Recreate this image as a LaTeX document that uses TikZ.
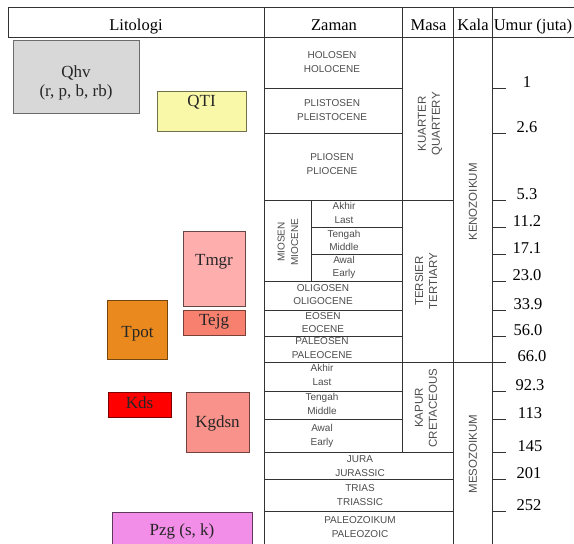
\documentclass[tikz,border=0pt]{standalone}
\usepackage{fontspec}
\setmainfont{Liberation Serif}
\setsansfont{Liberation Sans}
\usetikzlibrary{calc}

\definecolor{qhvgray}{HTML}{D8D8D8}
\definecolor{qtiyellow}{HTML}{F8F8A8}
\definecolor{tmgrpink}{HTML}{FFAEAE}
\definecolor{tejgsalmon}{HTML}{F7806F}
\definecolor{tpotorange}{HTML}{EA8A1E}
\definecolor{kdsred}{HTML}{FF0000}
\definecolor{kgdsnsalmon}{HTML}{F8928A}
\definecolor{pzgviolet}{HTML}{F28DE8}

\tikzset{
    tabline/.style={line width=0.7pt, draw=black!80},
    hdr/.style={anchor=base, inner sep=0pt, font=\fontsize{16.5}{18}\selectfont},
    era/.style={align=center, inner sep=0pt, text=black!70, font=\sffamily\fontsize{10}{13.5}\selectfont},
    masa/.style={rotate=90, align=center, inner sep=0pt, text=black!70, font=\sffamily\fontsize{11.5}{14}\selectfont},
    litho/.style={line width=0.8pt},
    lithotext/.style={anchor=base, inner sep=0pt, text=black!85, font=\fontsize{17}{19}\selectfont},
    umur/.style={inner sep=0pt, font=\fontsize{16.5}{18}\selectfont}
}

\begin{document}
\begin{tikzpicture}[x=1pt, y=-1pt]
        \useasboundingbox (0,0) rectangle (574,544);

        % header
        \draw[tabline] (8,7.5) -- (574,7.5);
        \draw[tabline] (8,37) -- (574,37);
        \draw[tabline] (8,7.5) -- (8,37);
        \node[hdr] (litologi) at (136,30.5) {Litologi};
        \node[hdr] (zaman) at (334,30.5) {Zaman};
        \node[hdr] (masa) at (428.5,30.5) {Masa};
        \node[hdr] (kala) at (473,30.5) {Kala};
        \node[hdr] (umur) at (533,30.5) {Umur (juta)};

        % column lines
        \draw[tabline] (264.5,7.5) -- (264.5,544);
        \draw[tabline] (402.5,7.5) -- (402.5,452);
        \draw[tabline] (453,7.5) -- (453,544);
        \draw[tabline] (492,7.5) -- (492,544);
        \draw[tabline] (311,200) -- (311,281);

        % row lines
        \foreach \y in {88,133,281,310,336,391,419}
            \draw[tabline] (264.5,\y) -- (402.5,\y);
        \foreach \y in {227,254}
            \draw[tabline] (311,\y) -- (402.5,\y);
        \foreach \y in {200,452,479,511}
            \draw[tabline] (264.5,\y) -- (453,\y);
        \draw[tabline] (264.5,362) -- (492,362);

        % zaman
        \node[era] (holosen) at (332,62) {HOLOSEN\\HOLOCENE};
        \node[era] (plistosen) at (332,110) {PLISTOSEN\\PLEISTOCENE};
        \node[era] (pliosen) at (332,164) {PLIOSEN\\PLIOCENE};
        \node[era, rotate=90] (miosen) at (288,242) {MIOSEN\\MIOCENE};
        \node[era] (mioakhir) at (344,213) {Akhir\\Last};
        \node[era] (miotengah) at (344,240.5) {Tengah\\Middle};
        \node[era] (mioawal) at (344,267.5) {Awal\\Early};
        \node[era] (oligosen) at (323,294.5) {OLIGOSEN\\OLIGOCENE};
        \node[era] (eosen) at (323,322.5) {EOSEN\\EOCENE};
        \node[era] (paleosen) at (322,348) {PALEOSEN\\PALEOCENE};
        \node[era] (kapurakhir) at (322,375) {Akhir\\Last};
        \node[era] (kapurtengah) at (322,404) {Tengah\\Middle};
        \node[era] (kapurawal) at (322,436) {Awal\\Early};
        \node[era] (jura) at (360,466) {JURA\\JURASSIC};
        \node[era] (trias) at (360,495) {TRIAS\\TRIASSIC};
        \node[era] (paleozoikum) at (360,527) {PALEOZOIKUM\\PALEOZOIC};

        % masa, kala
        \node[masa] (kuarter) at (430,124) {KUARTER\\QUARTERY};
        \node[masa] (tersier) at (426,281) {TERSIER\\TERTIARY};
        \node[masa] (kapur) at (426,408) {KAPUR\\CRETACEOUS};
        \node[masa] (kenozoikum) at (473,202) {KENOZOIKUM};
        \node[masa] (mesozoikum) at (473,454) {MESOZOIKUM};

        % umur
        \foreach \y/\xl/\age [count=\i] in {88/527/1, 133/527/2.6, 200/527/5.3, 227/527/11.2,
                254/527/17.1, 281/527/23.0, 310/528/33.9, 336/528/56.0, 362/532/66.0,
                391/530/92.3, 419/530/113, 452/530/145, 479/529/201, 511/529/252} {
            \draw[tabline] (492,\y) -- (506,\y);
            \node[umur] (age\i) at (\xl,\y-5.5) {\age};
        }

        % litologi
        \filldraw[litho, fill=qhvgray, draw=qhvgray!50!black] (13,40.5) rectangle (139,113);
        \node[lithotext, anchor=center, align=center] (qhv) at (76,83) {Qhv\\(r, p, b, rb)};
        \filldraw[litho, fill=qtiyellow, draw=qtiyellow!45!black] (157,91) rectangle (246,131);
        \node[lithotext] (qti) at (201.5,106.5) {QTI};
        \filldraw[litho, fill=tmgrpink, draw=tmgrpink!40!black] (183,231.5) rectangle (245,306);
        \node[lithotext] (tmgr) at (214,265.5) {Tmgr};
        \filldraw[litho, fill=tejgsalmon, draw=tejgsalmon!50!black] (183,310) rectangle (245,335.5);
        \node[lithotext] (tejg) at (214,325) {Tejg};
        \filldraw[litho, fill=tpotorange, draw=tpotorange!50!black] (107.5,300.5) rectangle (167,359);
        \node[lithotext] (tpot) at (137.5,337) {Tpot};
        \filldraw[litho, fill=kdsred, draw=kdsred!50!black] (108,392.5) rectangle (171,417.5);
        \node[lithotext] (kds) at (139.5,408) {Kds};
        \filldraw[litho, fill=kgdsnsalmon, draw=kgdsnsalmon!45!black] (186,392) rectangle (249,452);
        \node[lithotext] (kgdsn) at (217.5,427.5) {Kgdsn};
        \filldraw[litho, fill=pzgviolet, draw=pzgviolet!40!black] (112,512) rectangle (252,550);
        \node[lithotext] (pzg) at (182,535) {Pzg (s, k)};
    \end{tikzpicture}
\end{document}
